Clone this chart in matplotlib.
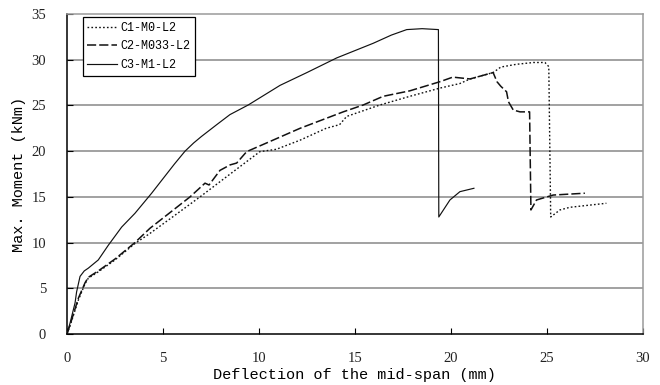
import matplotlib.pyplot as plt
import numpy as np

# C1-M0-L2 (dotted)
c1_x = [0, 0.16, 0.59, 0.94, 1.11, 1.63, 2.5, 3.54, 4.32, 5.5, 6.93, 8.5, 10.05, 10.9,
        12.14, 13.5, 14.2, 14.57, 16.3, 17.86, 19.43, 20.47, 21.0, 22.2, 22.6, 23.4,
        24.3, 24.9, 25.1, 25.2, 25.68, 26.2, 27.24, 28.1]
c1_y = [0, 0.9, 3.7, 5.5, 6.1, 6.8, 8.1, 9.9, 11.0, 12.8, 15.0, 17.5, 19.95, 20.2,
        21.2, 22.5, 22.9, 23.8, 25.05, 26.0, 26.9, 27.4, 27.9, 28.6, 29.2, 29.5,
        29.7, 29.7, 29.25, 12.8, 13.57, 13.86, 14.1, 14.3]

# C2-M033-L2 (dashed)
c2_x = [0, 0.16, 0.59, 0.94, 1.11, 1.63, 2.5, 3.54, 4.32, 5.5, 6.41, 7.19, 7.4, 7.97,
        8.5, 8.84, 9.36, 10.4, 12.14, 14.39, 15.43, 16.47, 17.86, 19.43, 20.1, 21.0,
        22.2, 22.4, 22.6, 22.9, 23.0, 23.25, 23.6, 24.1, 24.17, 24.46, 25.33, 26.98]
c2_y = [0, 1.0, 3.9, 5.6, 6.2, 6.9, 8.2, 10.0, 11.56, 13.5, 15.0, 16.5, 16.3, 17.9,
        18.5, 18.7, 19.95, 20.9, 22.5, 24.3, 25.05, 26.0, 26.6, 27.6, 28.1, 27.9,
        28.6, 27.6, 27.1, 26.5, 25.4, 24.5, 24.3, 24.3, 13.57, 14.66, 15.2, 15.4]

# C3-M1-L2 (solid)
c3_x = [0, 0.16, 0.42, 0.5, 0.68, 0.9, 1.11, 1.63, 2.15, 2.85, 3.54, 4.41, 4.93, 5.6,
        6.15, 6.6, 7.0, 7.8, 8.49, 9.44, 11.1, 12.5, 14.05, 15.95, 16.9, 17.7, 18.5,
        19.35, 19.37, 19.95, 20.47, 21.2]
c3_y = [0, 1.2, 3.4, 4.6, 6.3, 6.9, 7.2, 8.1, 9.7, 11.7, 13.2, 15.4, 16.8, 18.6,
        20.0, 20.9, 21.6, 22.9, 24.0, 25.05, 27.2, 28.6, 30.2, 31.8, 32.7, 33.3, 33.4,
        33.3, 12.8, 14.66, 15.57, 15.94]

x_ticks = [0, 5, 10, 15, 20, 25, 30]
y_ticks = [0, 5, 10, 15, 20, 25, 30, 35]

mono = 'Liberation Mono'
serif = 'Liberation Serif'

fig = plt.figure(figsize=(6.6, 3.85), dpi=100)
ax = fig.add_axes([0.1015, 0.1325, 0.8725, 0.831])

# horizontal grid
for v in y_ticks[1:-1]:
    ax.axhline(v, color='#9a9a9a', lw=1.3, zorder=1)

ax.plot(c1_x, c1_y, color='#111111', lw=1.0, linestyle=(0, (1.2, 1.6)), label='C1-M0-L2', zorder=3)
ax.plot(c2_x, c2_y, color='#111111', lw=1.1, linestyle=(0, (6, 2)), label='C2-M033-L2', zorder=3)
ax.plot(c3_x, c3_y, color='#111111', lw=0.85, label='C3-M1-L2', zorder=3)

ax.set_xlim(0, 30)
ax.set_ylim(0, 35)
ax.set_xticks(x_ticks)
ax.set_yticks(y_ticks)
ax.tick_params(direction='in', length=4, width=0.8, labelsize=10.5, pad=13)
ax.tick_params(axis='y', pad=15)
for lab in ax.get_xticklabels() + ax.get_yticklabels():
    lab.set_fontfamily(serif)
    lab.set_color('#222222')

ax.spines['left'].set_color('black')
ax.spines['bottom'].set_color('black')
ax.spines['top'].set_color('#9a9a9a')
ax.spines['right'].set_color('#9a9a9a')
for s in ax.spines.values():
    s.set_linewidth(1.1)

ax.set_xlabel('Deflection of the mid-span (mm)', fontfamily=mono, fontsize=11, labelpad=2)
ax.set_ylabel('Max. Moment (kNm)', fontfamily=mono, fontsize=11, labelpad=4)

leg = ax.legend(loc='upper left', bbox_to_anchor=(0.027, 0.99), prop={'family': mono, 'size': 8.5},
                frameon=True, fancybox=False, edgecolor='black', handlelength=2.5,
                handletextpad=0.3, borderpad=0.4, labelspacing=0.55, borderaxespad=0)
leg.get_frame().set_linewidth(0.9)
leg.get_frame().set_alpha(1)

fig.savefig('out.png', dpi=100)
